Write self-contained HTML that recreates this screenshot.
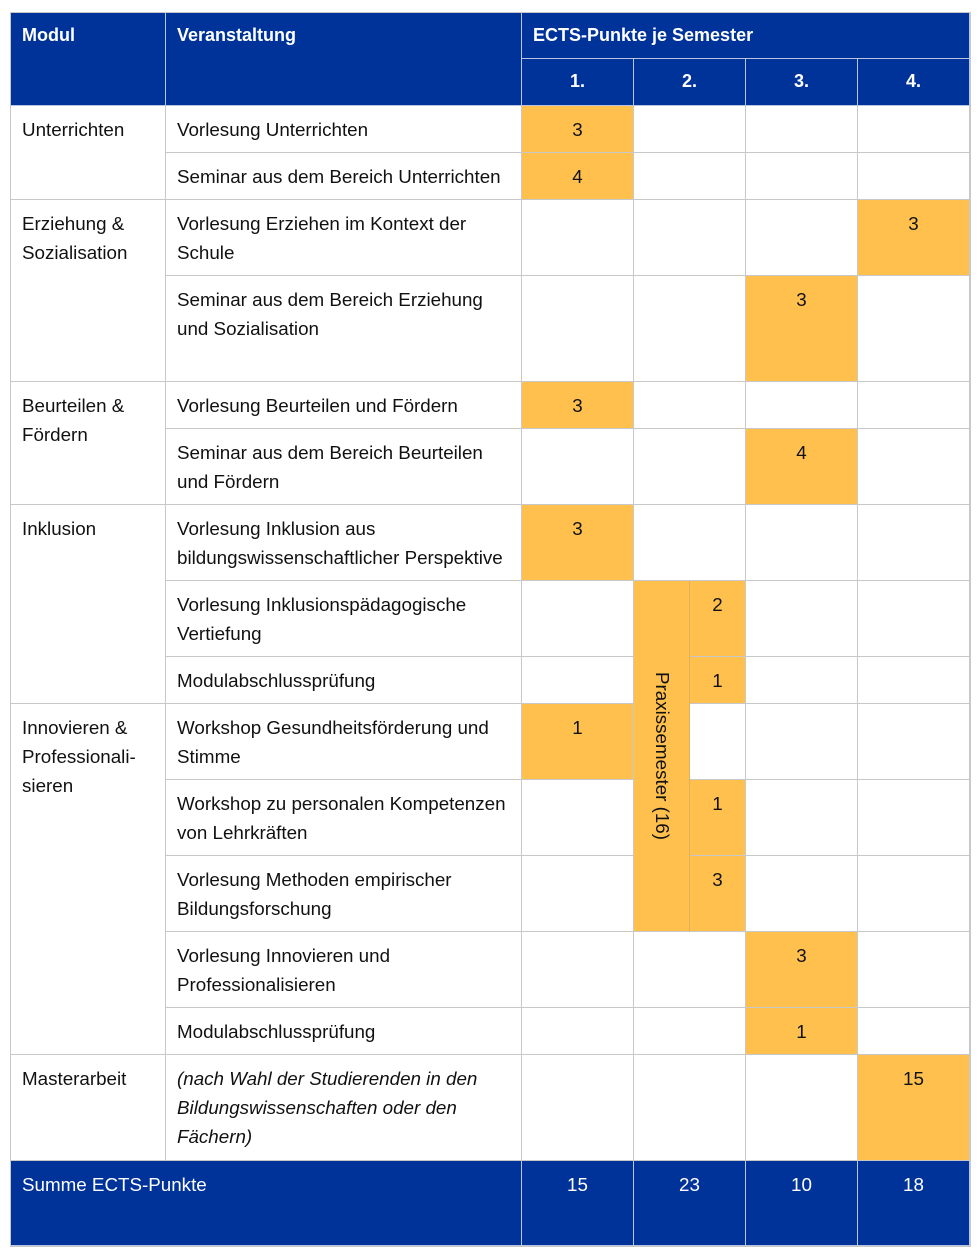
<!DOCTYPE html>
<html><head><meta charset="utf-8"><style>
body{margin:0;width:979px;height:1257px;background:#fff;position:relative;font-family:"Liberation Sans",sans-serif;font-size:18.8px;color:#111;overflow:hidden}
.c{position:absolute;box-sizing:border-box;border-right:1px solid #c8c8c8;border-bottom:1px solid #c8c8c8;padding:9px 0 0 11px;line-height:29px;background:#fff;white-space:nowrap}
.b{background:#003399;color:#fff;border-color:#b8c4e0}
.h{font-weight:bold;font-size:18px}
.o{background:#ffc04d}
.n{text-align:center;padding-left:0;padding-right:0}
.i{font-style:italic}
</style></head><body>
<div style="position:absolute;left:10px;top:12px;width:961px;height:1235px;border:1px solid #c8c8c8;box-sizing:border-box"></div>
<div class="c b h" style="left:11px;top:13px;width:155px;height:93px;padding-top:8px">Modul</div>
<div class="c b h" style="left:166px;top:13px;width:356px;height:93px;padding-top:8px">Veranstaltung</div>
<div class="c b h" style="left:522px;top:13px;width:448px;height:46px;padding-top:8px">ECTS-Punkte je Semester</div>
<div class="c b h n" style="left:522px;top:59px;width:112px;height:47px;padding-top:8px">1.</div>
<div class="c b h n" style="left:634px;top:59px;width:112px;height:47px;padding-top:8px">2.</div>
<div class="c b h n" style="left:746px;top:59px;width:112px;height:47px;padding-top:8px">3.</div>
<div class="c b h n" style="left:858px;top:59px;width:112px;height:47px;padding-top:8px">4.</div>
<div class="c" style="left:11px;top:106px;width:155px;height:94px">Unterrichten</div>
<div class="c" style="left:11px;top:200px;width:155px;height:182px">Erziehung &amp;<br>Sozialisation</div>
<div class="c" style="left:11px;top:382px;width:155px;height:123px">Beurteilen &amp;<br>Fördern</div>
<div class="c" style="left:11px;top:505px;width:155px;height:199px">Inklusion</div>
<div class="c" style="left:11px;top:704px;width:155px;height:351px">Innovieren &amp;<br>Professionali-<br>sieren</div>
<div class="c" style="left:11px;top:1055px;width:155px;height:106px">Masterarbeit</div>
<div class="c" style="left:166px;top:106px;width:356px;height:47px">Vorlesung Unterrichten</div>
<div class="c" style="left:166px;top:153px;width:356px;height:47px">Seminar aus dem Bereich Unterrichten</div>
<div class="c" style="left:166px;top:200px;width:356px;height:76px">Vorlesung Erziehen im Kontext der<br>Schule</div>
<div class="c" style="left:166px;top:276px;width:356px;height:106px">Seminar aus dem Bereich Erziehung<br>und Sozialisation</div>
<div class="c" style="left:166px;top:382px;width:356px;height:47px">Vorlesung Beurteilen und Fördern</div>
<div class="c" style="left:166px;top:429px;width:356px;height:76px">Seminar aus dem Bereich Beurteilen<br>und Fördern</div>
<div class="c" style="left:166px;top:505px;width:356px;height:76px">Vorlesung Inklusion aus<br>bildungswissenschaftlicher Perspektive</div>
<div class="c" style="left:166px;top:581px;width:356px;height:76px">Vorlesung Inklusionspädagogische<br>Vertiefung</div>
<div class="c" style="left:166px;top:657px;width:356px;height:47px">Modulabschlussprüfung</div>
<div class="c" style="left:166px;top:704px;width:356px;height:76px">Workshop Gesundheitsförderung und<br>Stimme</div>
<div class="c" style="left:166px;top:780px;width:356px;height:76px">Workshop zu personalen Kompetenzen<br>von Lehrkräften</div>
<div class="c" style="left:166px;top:856px;width:356px;height:76px">Vorlesung Methoden empirischer<br>Bildungsforschung</div>
<div class="c" style="left:166px;top:932px;width:356px;height:76px">Vorlesung Innovieren und<br>Professionalisieren</div>
<div class="c" style="left:166px;top:1008px;width:356px;height:47px">Modulabschlussprüfung</div>
<div class="c i" style="left:166px;top:1055px;width:356px;height:106px">(nach Wahl der Studierenden in den<br>Bildungswissenschaften oder den<br>Fächern)</div>
<div class="c n o" style="left:522px;top:106px;width:112px;height:47px">3</div>
<div class="c n o" style="left:522px;top:153px;width:112px;height:47px">4</div>
<div class="c n" style="left:522px;top:200px;width:112px;height:76px"></div>
<div class="c n" style="left:522px;top:276px;width:112px;height:106px"></div>
<div class="c n o" style="left:522px;top:382px;width:112px;height:47px">3</div>
<div class="c n" style="left:522px;top:429px;width:112px;height:76px"></div>
<div class="c n o" style="left:522px;top:505px;width:112px;height:76px">3</div>
<div class="c n" style="left:522px;top:581px;width:112px;height:76px"></div>
<div class="c n" style="left:522px;top:657px;width:112px;height:47px"></div>
<div class="c n o" style="left:522px;top:704px;width:112px;height:76px">1</div>
<div class="c n" style="left:522px;top:780px;width:112px;height:76px"></div>
<div class="c n" style="left:522px;top:856px;width:112px;height:76px"></div>
<div class="c n" style="left:522px;top:932px;width:112px;height:76px"></div>
<div class="c n" style="left:522px;top:1008px;width:112px;height:47px"></div>
<div class="c n" style="left:522px;top:1055px;width:112px;height:106px"></div>
<div class="c n" style="left:634px;top:106px;width:112px;height:47px"></div>
<div class="c n" style="left:634px;top:153px;width:112px;height:47px"></div>
<div class="c n" style="left:634px;top:200px;width:112px;height:76px"></div>
<div class="c n" style="left:634px;top:276px;width:112px;height:106px"></div>
<div class="c n" style="left:634px;top:382px;width:112px;height:47px"></div>
<div class="c n" style="left:634px;top:429px;width:112px;height:76px"></div>
<div class="c n" style="left:634px;top:505px;width:112px;height:76px"></div>
<div class="c n o" style="left:634px;top:581px;width:56px;height:351px;padding:0;border-right-color:#e0b060"><div style="position:absolute;left:28px;top:175px;transform:translate(-50%,-50%) rotate(90deg);white-space:nowrap;line-height:20px">Praxissemester (16)</div></div>
<div class="c n o" style="left:690px;top:581px;width:56px;height:76px">2</div>
<div class="c n o" style="left:690px;top:657px;width:56px;height:47px">1</div>
<div class="c n" style="left:690px;top:704px;width:56px;height:76px"></div>
<div class="c n o" style="left:690px;top:780px;width:56px;height:76px">1</div>
<div class="c n o" style="left:690px;top:856px;width:56px;height:76px">3</div>
<div class="c n" style="left:634px;top:932px;width:112px;height:76px"></div>
<div class="c n" style="left:634px;top:1008px;width:112px;height:47px"></div>
<div class="c n" style="left:634px;top:1055px;width:112px;height:106px"></div>
<div class="c n" style="left:746px;top:106px;width:112px;height:47px"></div>
<div class="c n" style="left:746px;top:153px;width:112px;height:47px"></div>
<div class="c n" style="left:746px;top:200px;width:112px;height:76px"></div>
<div class="c n o" style="left:746px;top:276px;width:112px;height:106px">3</div>
<div class="c n" style="left:746px;top:382px;width:112px;height:47px"></div>
<div class="c n o" style="left:746px;top:429px;width:112px;height:76px">4</div>
<div class="c n" style="left:746px;top:505px;width:112px;height:76px"></div>
<div class="c n" style="left:746px;top:581px;width:112px;height:76px"></div>
<div class="c n" style="left:746px;top:657px;width:112px;height:47px"></div>
<div class="c n" style="left:746px;top:704px;width:112px;height:76px"></div>
<div class="c n" style="left:746px;top:780px;width:112px;height:76px"></div>
<div class="c n" style="left:746px;top:856px;width:112px;height:76px"></div>
<div class="c n o" style="left:746px;top:932px;width:112px;height:76px">3</div>
<div class="c n o" style="left:746px;top:1008px;width:112px;height:47px">1</div>
<div class="c n" style="left:746px;top:1055px;width:112px;height:106px"></div>
<div class="c n" style="left:858px;top:106px;width:112px;height:47px"></div>
<div class="c n" style="left:858px;top:153px;width:112px;height:47px"></div>
<div class="c n o" style="left:858px;top:200px;width:112px;height:76px">3</div>
<div class="c n" style="left:858px;top:276px;width:112px;height:106px"></div>
<div class="c n" style="left:858px;top:382px;width:112px;height:47px"></div>
<div class="c n" style="left:858px;top:429px;width:112px;height:76px"></div>
<div class="c n" style="left:858px;top:505px;width:112px;height:76px"></div>
<div class="c n" style="left:858px;top:581px;width:112px;height:76px"></div>
<div class="c n" style="left:858px;top:657px;width:112px;height:47px"></div>
<div class="c n" style="left:858px;top:704px;width:112px;height:76px"></div>
<div class="c n" style="left:858px;top:780px;width:112px;height:76px"></div>
<div class="c n" style="left:858px;top:856px;width:112px;height:76px"></div>
<div class="c n" style="left:858px;top:932px;width:112px;height:76px"></div>
<div class="c n" style="left:858px;top:1008px;width:112px;height:47px"></div>
<div class="c n o" style="left:858px;top:1055px;width:112px;height:106px">15</div>
<div class="c b" style="left:11px;top:1161px;width:511px;height:85px">Summe ECTS-Punkte</div>
<div class="c b n" style="left:522px;top:1161px;width:112px;height:85px">15</div>
<div class="c b n" style="left:634px;top:1161px;width:112px;height:85px">23</div>
<div class="c b n" style="left:746px;top:1161px;width:112px;height:85px">10</div>
<div class="c b n" style="left:858px;top:1161px;width:112px;height:85px">18</div>
</body></html>
